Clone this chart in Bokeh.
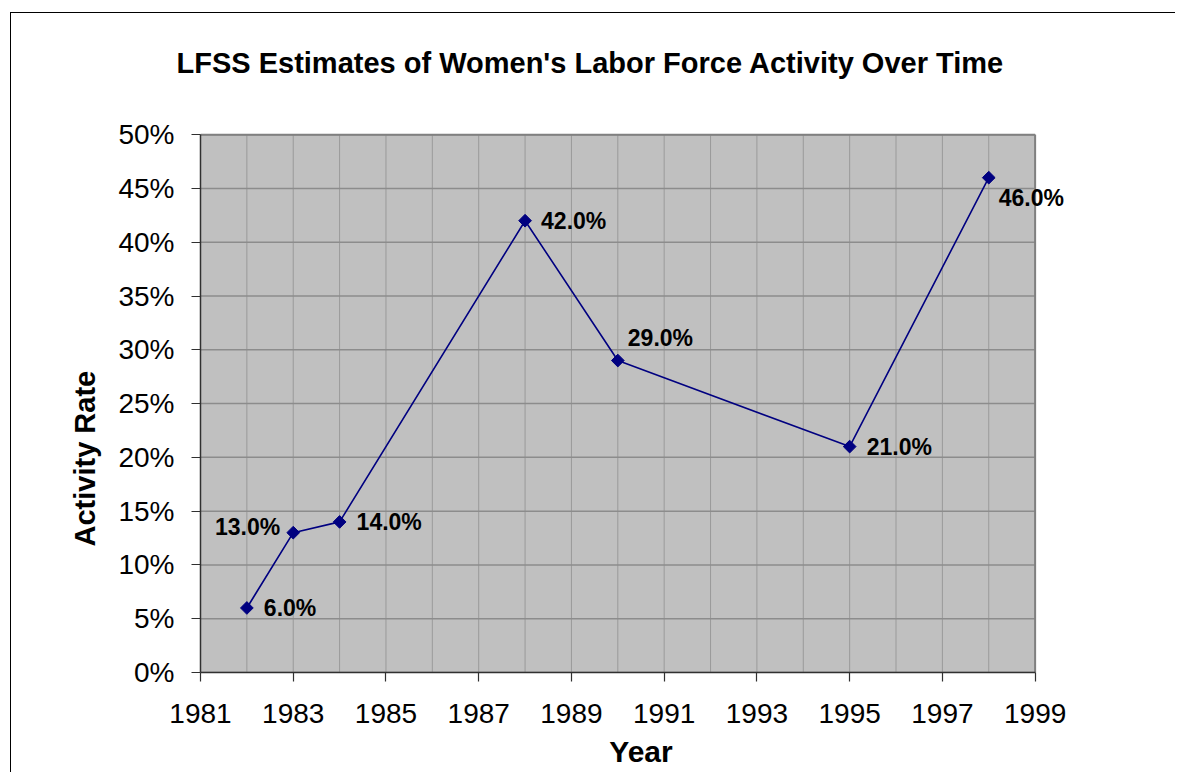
import math
from bokeh.plotting import figure
from bokeh.models import (FixedTicker, PrintfTickFormatter, LabelSet, Title,
                          ColumnDataSource, Range1d)
from bokeh.core.properties import value
from bokeh.embed import file_html
from bokeh.resources import INLINE

# ---- data ----
years = [1982, 1983, 1984, 1988, 1990, 1995, 1998]
rates = [6.0, 13.0, 14.0, 42.0, 29.0, 21.0, 46.0]
x_tick_labels = [1981, 1983, 1985, 1987, 1989, 1991, 1993, 1995, 1997, 1999]
y_tick_values = [0, 5, 10, 15, 20, 25, 30, 35, 40, 45, 50]
grid_years = list(range(1981, 2000))

# label placement styles (screen offsets)
lab_xoff = [17, -13, 17, 16, 10, 17, 10]
lab_yoff = [0, 6, 0, 0, 23, 0, -20]
lab_align = ["left", "right", "left", "left", "left", "left", "left"]

FONT = "Liberation Sans"
X0, X1, Y0, Y1 = 1981, 1999, 0, 50

p = figure(width=1165, height=760,
           x_range=Range1d(X0, X1 + 1), y_range=Range1d(Y0, Y1 + 0.2),
           output_backend="svg", toolbar_location=None,
           min_border_left=189, min_border_right=95, min_border_top=119,
           min_border_bottom=101, background_fill_color="white",
           border_fill_color="white")
p.styles = {"border-left": "1px solid #000000", "border-top": "1px solid #000000",
            "margin-left": "10px", "margin-top": "12px"}
p.outline_line_color = None
p.xgrid.visible = False
p.ygrid.visible = False

# plot area background + grid
p.quad(left=[X0], right=[X1], bottom=[Y0], top=[Y1], fill_color="#C0C0C0",
       line_color=None)
p.segment(x0=grid_years, y0=[Y0] * len(grid_years), x1=grid_years,
          y1=[Y1] * len(grid_years), line_color="#9a9a9a", line_width=1)
p.segment(x0=[X0] * len(y_tick_values), y0=y_tick_values,
          x1=[X1] * len(y_tick_values), y1=y_tick_values,
          line_color="#8c8c8c", line_width=1.5)
# top / right border of plot area
p.segment(x0=[X0, X1], y0=[Y1, Y0], x1=[X1, X1], y1=[Y1, Y1],
          line_color="#808080", line_width=2)

# axes
for ax in (p.xaxis[0], p.yaxis[0]):
    ax.axis_line_color = "#303030"
    ax.axis_line_width = 1.5
    ax.major_tick_line_color = "#303030"
    ax.major_tick_line_width = 1.2
    ax.major_tick_out = 9
    ax.major_tick_in = 0
    ax.minor_tick_line_color = None
    ax.major_label_text_font = FONT
    ax.major_label_text_font_size = "28px"
    ax.major_label_text_color = "black"

p.xaxis.ticker = FixedTicker(ticks=x_tick_labels)
p.xaxis.bounds = (X0, X1)
p.xaxis.major_label_standoff = 22
p.xaxis.axis_label = "Year"
p.xaxis.axis_label_text_font = FONT
p.xaxis.axis_label_text_font_style = "bold"
p.xaxis.axis_label_text_font_size = "30px"
p.xaxis.axis_label_text_color = "black"
p.xaxis.axis_label_standoff = 9

p.yaxis.ticker = FixedTicker(ticks=y_tick_values)
p.yaxis.bounds = (Y0, Y1)
p.yaxis.formatter = PrintfTickFormatter(format="%d%%")
p.yaxis.major_label_standoff = 17

# line + markers
p.line(years, rates, line_color="#000080", line_width=1.6)
p.scatter(years, rates, marker="square", angle=math.pi / 4, size=9,
          fill_color="#000080", line_color="#000080")

# data labels
src = ColumnDataSource(dict(x=years, y=rates, text=[f"{v:.1f}%" for v in rates],
                            xo=lab_xoff, yo=lab_yoff, align=lab_align))
p.add_layout(LabelSet(x="x", y="y", text="text", source=src, x_offset="xo",
                      y_offset="yo", text_align="align", text_baseline="middle",
                      text_font=value(FONT), text_font_style="bold",
                      text_font_size="23px", text_color="black"))

# spacer between chart title and plot area
p.add_layout(Title(text=" ", text_font_size="10px", standoff=36), "above")

# chart title
p.title.text = "LFSS Estimates of Women's Labor Force Activity  Over Time"
p.title.align = "left"
p.title.offset = -24
p.title.text_font = FONT
p.title.text_font_style = "bold"
p.title.text_font_size = "29px"
p.title.text_color = "black"
p.title.standoff = 10

# y axis title
p.add_layout(Title(text="Activity Rate", align="left", offset=126,
                   text_font=FONT, text_font_style="bold", text_font_size="29px",
                   text_color="black", standoff=29), "left")

open("out.html", "w").write(file_html(p, INLINE))
